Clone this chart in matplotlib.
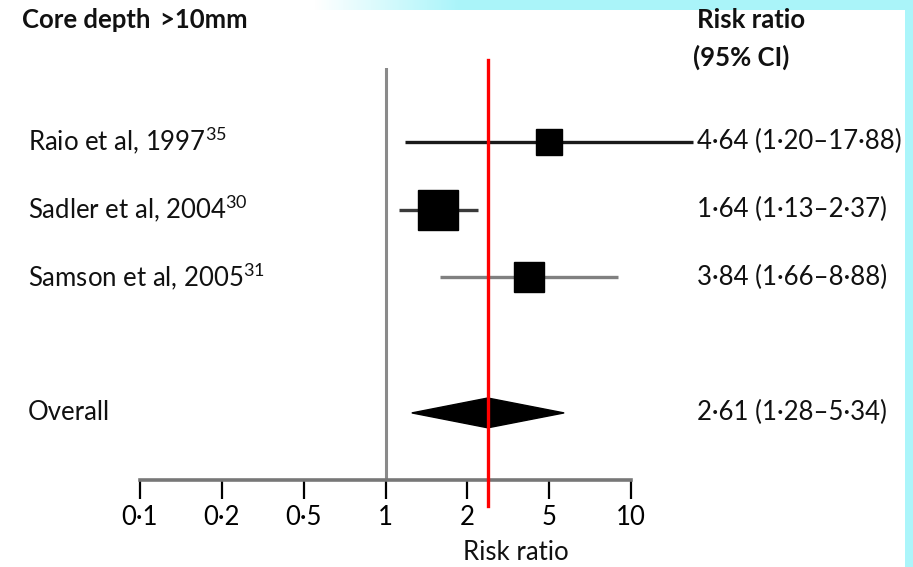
import matplotlib
matplotlib.use("Agg")
import matplotlib.pyplot as plt
import numpy as np
from matplotlib.patches import Polygon

# study rows
studies = ["Raio et al, 1997", "Sadler et al, 2004", "Samson et al, 2005"]
refs = ["35", "30", "31"]
rr = [4.64, 1.64, 3.84]
ci_low = [1.20, 1.13, 1.66]
ci_high = [17.88, 2.37, 8.88]
rows = [0, 1, 2]

# pooled estimate
overall_label = "Overall"
overall_rr = 2.61
overall_low = 1.28
overall_high = 5.34
overall_row = 4

tick_labels = ["0·1", "0·2", "0·5", "1", "2", "5", "10"]

# box sizes (points) and line colours per study
box_sizes = [19, 29, 22]
line_colors = ["#1a1a1a", "#3a3a3a", "#808080"]

FS = 18.5


def fmt(v):
    return f"{v:.2f}".replace(".", "\u00b7")


plt.rcParams["font.family"] = ["Lato", "DejaVu Sans"]
plt.rcParams["mathtext.default"] = "regular"

W, H = 913, 567
fig = plt.figure(figsize=(W / 100, H / 100), dpi=100)
fig.patch.set_facecolor("white")

# cyan decorations of the screenshot
cyan = np.array([0.67, 0.96, 0.98])
band = fig.add_axes([315 / W, 1 - 10 / H, 1 - 315 / W, 10 / H])
grad = np.clip(np.linspace(0, 1, 600) * 4.2, 0, 1)
img = 1 - grad[None, :, None] * (1 - cyan[None, None, :])
band.imshow(img, aspect="auto", extent=[0, 1, 0, 1])
band.axis("off")
strip = fig.add_axes([905 / W, 0, 8 / W, 1 - 10 / H])
strip.set_facecolor(cyan)
strip.set_xticks([])
strip.set_yticks([])
for s in strip.spines.values():
    s.set_visible(False)

ax_left, ax_right = 140 / W, 631 / W
ax_bottom, ax_top = 1 - 480 / H, 1 - 68 / H
ax = fig.add_axes([ax_left, ax_bottom, ax_right - ax_left, ax_top - ax_bottom])
ax.set_xscale("log")
ax.set_xlim(0.1, 10)
ax.set_ylim(4.99, -1.09)
ax.patch.set_alpha(0)

for side in ["top", "right", "left"]:
    ax.spines[side].set_visible(False)
ax.spines["bottom"].set_color("#777777")
ax.spines["bottom"].set_linewidth(2.6)

ax.xaxis.set_minor_locator(matplotlib.ticker.NullLocator())
ax.set_xticks(10 ** ((np.arange(len(tick_labels)) - 3) / 3))
ax.set_xticklabels(tick_labels, fontsize=FS)
ax.tick_params(axis="x", direction="out", length=14, width=1.6, color="black", pad=4)
ax.set_yticks([])

ax.axvline(1, color="#8a8a8a", lw=2.2, zorder=1)

for y, r, lo, hi, ms, c in zip(rows, rr, ci_low, ci_high, box_sizes, line_colors):
    ax.plot([lo, hi], [y, y], color=c, lw=2.4, clip_on=False, zorder=2,
            solid_capstyle="butt")
    ax.plot([r], [y], marker="s", markersize=ms, color="black", clip_on=False, zorder=3)

h = 0.22
diamond = Polygon([[overall_low, overall_row], [overall_rr, overall_row - h],
                   [overall_high, overall_row], [overall_rr, overall_row + h]],
                  closed=True, color="black", zorder=3)
ax.add_patch(diamond)

ax.axvline(overall_rr, ymin=-26 / 412, ymax=(480 - 60) / 412, color="#ff0000",
           lw=2.4, clip_on=False, zorder=4)

# row labels
trans = matplotlib.transforms.blended_transform_factory(fig.transFigure, ax.transData)
for y, name, ref, r, lo, hi in zip(rows, studies, refs, rr, ci_low, ci_high):
    ax.text(28 / W, y, f"{name}$^{{{ref}}}$", transform=trans, fontsize=FS,
            va="center", ha="left", color="#111111")
    ax.text(697 / W, y, f"{fmt(r)} ({fmt(lo)}\u2013{fmt(hi)})", transform=trans,
            fontsize=FS, va="center", ha="left", color="#111111")
ax.text(28 / W, overall_row, overall_label, transform=trans, fontsize=FS,
        va="center", ha="left", color="#111111")
ax.text(697 / W, overall_row,
        f"{fmt(overall_rr)} ({fmt(overall_low)}\u2013{fmt(overall_high)})",
        transform=trans, fontsize=FS, va="center", ha="left", color="#111111")

# headers
fig.text(22 / W, 1 - 20 / H, "Core depth \u2009>10mm", fontsize=FS, fontweight="bold",
         va="center", ha="left", color="#111111")
fig.text(697 / W, 1 - 20 / H, "Risk ratio", fontsize=FS, fontweight="bold",
         va="center", ha="left", color="#111111")
fig.text(693 / W, 1 - 57 / H, "(95% CI)", fontsize=FS, fontweight="bold",
         va="center", ha="left", color="#111111")
fig.text(516 / W, 1 - 553 / H, "Risk ratio", fontsize=FS, va="center", ha="center",
         color="#111111")

fig.savefig("out.png", dpi=100)
